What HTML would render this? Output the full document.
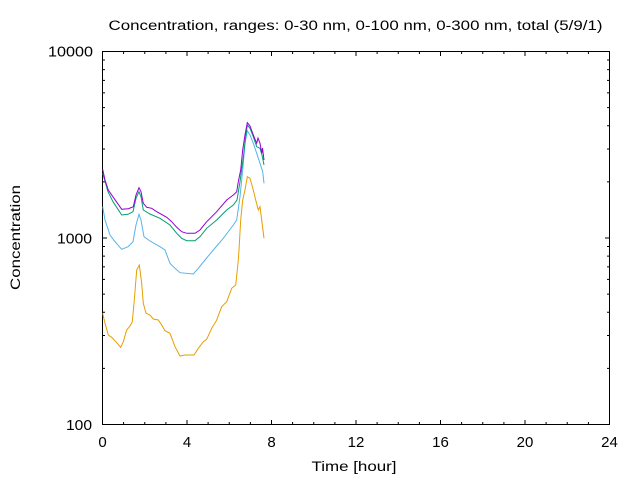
<!DOCTYPE html>
<html><head><meta charset="utf-8"><style>
html,body{margin:0;padding:0;background:#fff;}
svg{display:block;}
text{font-family:"Liberation Sans","DejaVu Sans",sans-serif;fill:#000;}
</style></head><body>
<svg width="640" height="480" viewBox="0 0 640 480" xmlns="http://www.w3.org/2000/svg">
<rect width="640" height="480" fill="#fff"/>
<text x="355.5" y="30" font-size="13.5" text-anchor="middle" textLength="494" lengthAdjust="spacingAndGlyphs">Concentration, ranges: 0-30 nm, 0-100 nm, 0-300 nm, total (5/9/1)</text>
<g stroke="#000" stroke-width="1" fill="none">
<rect x="102.5" y="51.5" width="507" height="373"/>
<path d="
M102.5,424.5v-4.5 M102.5,51.5v4.5
M187,424.5v-4.5 M187,51.5v4.5
M271.5,424.5v-4.5 M271.5,51.5v4.5
M356,424.5v-4.5 M356,51.5v4.5
M440.5,424.5v-4.5 M440.5,51.5v4.5
M525,424.5v-4.5 M525,51.5v4.5
M102.5,238h4.5 M609.5,238h-4.5
M102.5,424.5h4.5 M609.5,424.5h-4.5
M102.5,51.5h4.5 M609.5,51.5h-4.5
"/>
<path d="
M123.6,424.5v-2.5 M144.75,424.5v-2.5 M165.9,424.5v-2.5
M208.1,424.5v-2.5 M229.25,424.5v-2.5 M250.4,424.5v-2.5
M292.6,424.5v-2.5 M313.75,424.5v-2.5 M334.9,424.5v-2.5
M377.1,424.5v-2.5 M398.25,424.5v-2.5 M419.4,424.5v-2.5
M461.6,424.5v-2.5 M482.75,424.5v-2.5 M503.9,424.5v-2.5
M546.1,424.5v-2.5 M567.25,424.5v-2.5 M588.4,424.5v-2.5
M123.6,51.5v2.5 M144.75,51.5v2.5 M165.9,51.5v2.5
M208.1,51.5v2.5 M229.25,51.5v2.5 M250.4,51.5v2.5
M292.6,51.5v2.5 M313.75,51.5v2.5 M334.9,51.5v2.5
M377.1,51.5v2.5 M398.25,51.5v2.5 M419.4,51.5v2.5
M461.6,51.5v2.5 M482.75,51.5v2.5 M503.9,51.5v2.5
M546.1,51.5v2.5 M567.25,51.5v2.5 M588.4,51.5v2.5
M102.5,368.4h2.5 M102.5,335.5h2.5 M102.5,312.2h2.5 M102.5,294.1h2.5 M102.5,279.4h2.5 M102.5,266.9h2.5 M102.5,256.1h2.5 M102.5,246.5h2.5
M102.5,181.9h2.5 M102.5,149h2.5 M102.5,125.7h2.5 M102.5,107.6h2.5 M102.5,92.9h2.5 M102.5,80.4h2.5 M102.5,69.6h2.5 M102.5,60h2.5
M609.5,368.4h-2.5 M609.5,335.5h-2.5 M609.5,312.2h-2.5 M609.5,294.1h-2.5 M609.5,279.4h-2.5 M609.5,266.9h-2.5 M609.5,256.1h-2.5 M609.5,246.5h-2.5
M609.5,181.9h-2.5 M609.5,149h-2.5 M609.5,125.7h-2.5 M609.5,107.6h-2.5 M609.5,92.9h-2.5 M609.5,80.4h-2.5 M609.5,69.6h-2.5 M609.5,60h-2.5
"/>
</g>
<g font-size="15" text-anchor="end">
<text x="93" y="56.5" textLength="45" lengthAdjust="spacingAndGlyphs">10000</text>
<text x="92" y="243.5" textLength="35" lengthAdjust="spacingAndGlyphs">1000</text>
<text x="92" y="430" textLength="26" lengthAdjust="spacingAndGlyphs">100</text>
</g>
<g font-size="15" text-anchor="middle">
<text x="102.5" y="447">0</text>
<text x="187" y="447">4</text>
<text x="271.5" y="447">8</text>
<text x="356" y="447">12</text>
<text x="440.5" y="447">16</text>
<text x="525" y="447">20</text>
<text x="609.5" y="447">24</text>
</g>
<text x="354" y="471" font-size="14" text-anchor="middle" textLength="85" lengthAdjust="spacingAndGlyphs">Time [hour]</text>
<text transform="translate(20,237.5) rotate(-90)" font-size="14" text-anchor="middle" textLength="105" lengthAdjust="spacingAndGlyphs">Concentration</text>
<g fill="none" stroke-width="1" stroke-linejoin="miter">
<polyline stroke="#e69f00" points="102.7,313.3 105,323.3 108.3,335 111.7,337.3 116.7,342.7 120.7,347.3 123.3,341.7 126.7,330 130,326 132.3,321.7 134.3,300 136.7,270 139.3,265 141.7,283.3 143.3,303.3 146,313.3 150,315 153.3,319 158.3,320 161.7,325 165,330.7 170,333.3 175,346.7 180,356 185,355 194,355 198.3,348.3 203.3,341.7 206.7,339.3 211.7,328.3 216.7,320 221.7,306.7 226.7,301.7 231.7,288.3 235.7,285 237.3,270 238.3,260 239,250 240.7,220 242.7,200 245,190 247.3,176.7 250,178.3 253.3,190 255.7,200 258.3,210 260,206.7 261.7,220 264,238.3"/>
<polyline stroke="#56b4e9" points="102.7,206.7 105,220 110,235 115,241.7 121.7,249.3 128,246.7 133,241.7 136,225 139,214.3 141,220 144,236.7 150,241 160,246.7 165,250 170,263.3 175,268.3 180,272.7 193.3,274 198.3,268.3 205,260 213.3,250 223.3,238.3 233.3,225 236.7,220 240,196.7 242.7,170 245,143.3 247.3,130.7 250,135 253.3,143.3 256.7,153.3 260,163.3 262.7,171.7 264,183.3"/>
<polyline stroke="#009e73" points="102.7,173.3 108,191.7 113,201.7 121.7,215 128,214.3 133,211.7 136,198.3 139,191.7 141,196.7 143.3,210 150,214 160,218.3 170,225 176.7,233.3 181.7,238.3 186.7,240.7 195,240.7 200,236.7 206.7,228.3 216.7,220 226.7,210 233.3,205 237,200 240,181.7 243,160 245.5,138.3 247.3,125 250,128.3 253.3,136.7 256.7,146.7 260,148.3 262,155 264,165"/>
<polyline stroke="#9400d3" points="102.7,169.3 105,180 108.3,190 113.3,197.3 121.7,209.3 128.3,208.7 133.3,206.7 136,195 139,187.7 141,191.7 143.3,203.3 146.7,207.3 151.7,208.3 156.7,211.7 166.7,217.3 171.7,221.7 176.7,227.3 181.7,231.7 186.7,233.3 195,233.3 200,230 206.7,221.7 216.7,211.7 226.7,200 233.3,195 236.7,191.7 238.3,181.7 240.7,170 242.7,150 245,135 247.3,122.7 250,126 253.3,135 256.7,143.3 258,138 260,143.3 261.7,153.3 262.5,148 264,160"/>
</g>
</svg>
</body></html>
